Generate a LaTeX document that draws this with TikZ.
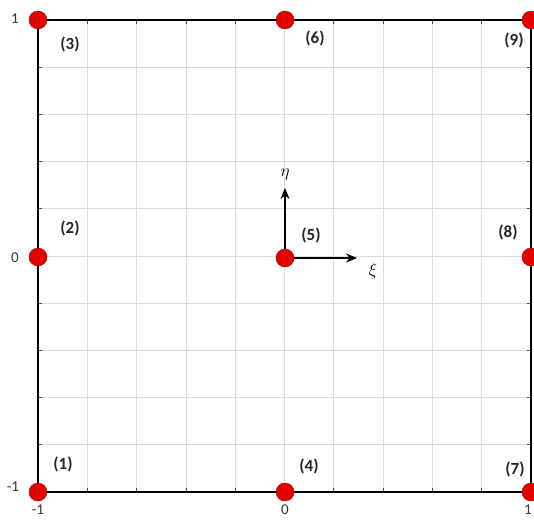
\documentclass[tikz,border=0pt]{standalone}
\usepackage{fontspec}
\setmainfont{Carlito}
\usetikzlibrary{arrows.meta}
\begin{document}
\begin{tikzpicture}[x=1pt,y=-1pt,
  gridline/.style={draw=black!14, line width=0.8pt},
  border/.style={draw=black, line width=1.6pt},
  dotnode/.style={circle, fill=red!90!black, draw=red!60!black, line width=0.4pt, minimum size=18pt, inner sep=0pt},
  lbl/.style={font=\fontsize{17}{19}\selectfont\bfseries, text=black!85},
  ax/.style={font=\fontsize{15}{17}\selectfont, text=black!80},
  greek/.style={font=\fontsize{16}{18}\selectfont},
  arr/.style={-{Stealth[length=11pt,width=9pt]}, line width=1.1pt},
  tick/.style={draw=black!70, line width=0.8pt}]
\useasboundingbox (0,0) rectangle (534,519);
\fill[white] (0,0) rectangle (534,519);
% grid
\foreach \i in {1,...,9} {
  \draw[gridline] ({38+49.3*\i},20) -- ({38+49.3*\i},492);
  \draw[gridline] (38,{20+47.2*\i}) -- (531,{20+47.2*\i});
  \draw[tick] ({38+49.3*\i},20) -- ({38+49.3*\i},24);
  \draw[tick] ({38+49.3*\i},492) -- ({38+49.3*\i},488);
  \draw[tick] (38,{20+47.2*\i}) -- (42,{20+47.2*\i});
  \draw[tick] (531,{20+47.2*\i}) -- (527,{20+47.2*\i});
}
\draw[border] (38,20) rectangle (531,492);
% arrows
\coordinate (etaend) at (285,188);
\coordinate (xiend) at (357,258);
\draw[arr] (285,258) -- (etaend);
\draw[arr] (285,258) -- (xiend);
\node[greek] (eta) at (285,174) {$\eta$};
\node[greek] (xi) at (373,271) {$\xi$};
% dots
\node[dotnode] (n1) at (38,492) {};
\node[dotnode] (n2) at (38,257) {};
\node[dotnode] (n3) at (38,20) {};
\node[dotnode] (n4) at (285,492) {};
\node[dotnode] (n5) at (285,258) {};
\node[dotnode] (n6) at (285,20) {};
\node[dotnode] (n7) at (531,492) {};
\node[dotnode] (n8) at (531,257) {};
\node[dotnode] (n9) at (531,20) {};
% labels
\node[lbl] (l1) at (63,464) {(1)};
\node[lbl] (l2) at (70,228) {(2)};
\node[lbl] (l3) at (70,44) {(3)};
\node[lbl] (l4) at (309,466) {(4)};
\node[lbl] (l5) at (311,235) {(5)};
\node[lbl] (l6) at (315,38) {(6)};
\node[lbl] (l7) at (515,469) {(7)};
\node[lbl] (l8) at (508,232) {(8)};
\node[lbl] (l9) at (514,40) {(9)};
% axis labels
\node[ax] (y1) at (15,19) {1};
\node[ax] (y0) at (15,258) {0};
\node[ax] (ym1) at (13,487) {-1};
\node[ax] (xm1) at (38,510) {-1};
\node[ax] (x0) at (285,510) {0};
\node[ax] (x1) at (528,510) {1};
\end{tikzpicture}
\end{document}
